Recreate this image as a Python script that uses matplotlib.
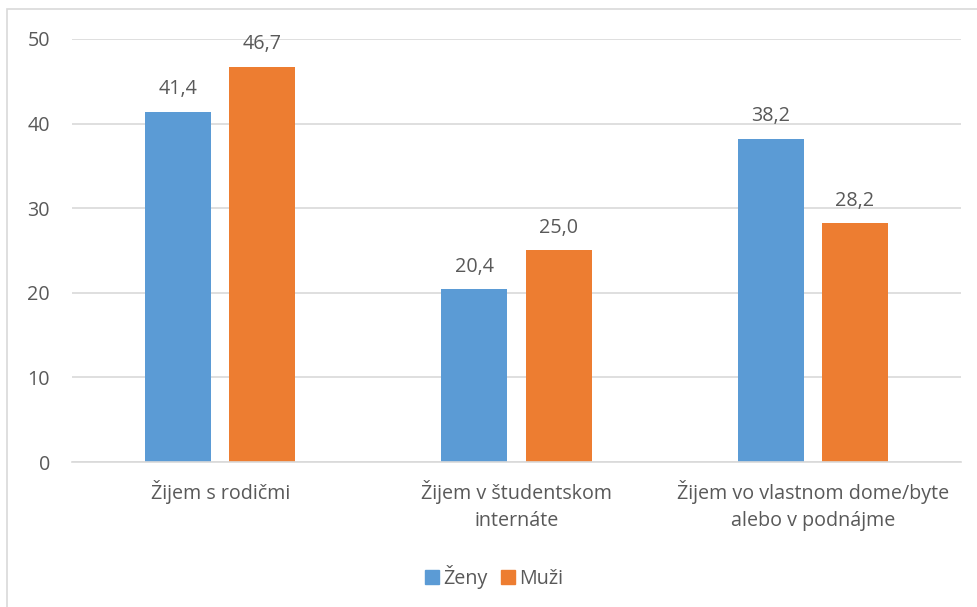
import matplotlib
matplotlib.use("Agg")
import matplotlib.pyplot as plt
from matplotlib.patches import Rectangle, Patch

categories = ["Žijem s rodičmi", "Žijem v študentskom\ninternáte",
              "Žijem vo vlastnom dome/byte\nalebo v podnájme"]
zeny = [41.4, 20.4, 38.2]
muzi = [46.7, 25.0, 28.2]
series_names = ["Ženy", "Muži"]
yticks = [0, 10, 20, 30, 40, 50]

BLUE = "#5B9BD5"
ORANGE = "#ED7D31"
TXT = "#595959"
GRID = "#D9D9D9"
FONT = "Open Sans"
FS = 14.2

W, H = 978, 607
fig = plt.figure(figsize=(W / 100, H / 100), dpi=100)
plt.rcParams["font.family"] = [FONT, "DejaVu Sans"]

# outer chart border
fig.patches.append(Rectangle((7.5 / W, -0.1), 1.2, 1 - 8.5 / H + 0.1,
                             transform=fig.transFigure, fill=False,
                             edgecolor=GRID, linewidth=1.2))

ax = fig.add_axes([72 / W, 145 / H, (961 - 72) / W, (462 - 39) / H])
x = range(len(categories))
bw = 0.223
off = 0.142
b1 = ax.bar([i - off for i in x], zeny, bw, color=BLUE, label=series_names[0], zorder=3)
b2 = ax.bar([i + off for i in x], muzi, bw, color=ORANGE, label=series_names[1], zorder=3)

for bars, vals in ((b1, zeny), (b2, muzi)):
    for r, v in zip(bars, vals):
        ax.annotate(f"{v:.1f}".replace(".", ","), (r.get_x() + r.get_width() / 2, v),
                    xytext=(0, 9), textcoords="offset points", ha="center",
                    va="bottom", color=TXT, fontsize=FS)

ax.set_xlim(-0.5, 2.5)
ax.set_ylim(0, 50)
ax.set_yticks(yticks)
ax.set_yticklabels([str(t) for t in yticks])
ax.set_xticks(list(x))
ax.set_xticklabels(categories, linespacing=1.45)
ax.tick_params(axis="both", length=0, colors=TXT, labelsize=FS)
ax.tick_params(axis="y", pad=16)
ax.tick_params(axis="x", pad=13)
ax.yaxis.grid(True, color=GRID, linewidth=1.2, zorder=0)
for s in ("top", "right", "left"):
    ax.spines[s].set_visible(False)
ax.spines["bottom"].set_color(GRID)
ax.spines["bottom"].set_linewidth(1.2)
ax.spines["bottom"].set_zorder(4)

handles = [Patch(color=BLUE), Patch(color=ORANGE)]
fig.legend(handles, series_names, loc="center", bbox_to_anchor=(494 / W, 1 - 577 / H),
           ncol=2, frameon=False, fontsize=FS, handlelength=0.7, handleheight=0.7,
           handletextpad=0.2, columnspacing=0.7, labelcolor=TXT)

fig.savefig("out.png", dpi=100)
